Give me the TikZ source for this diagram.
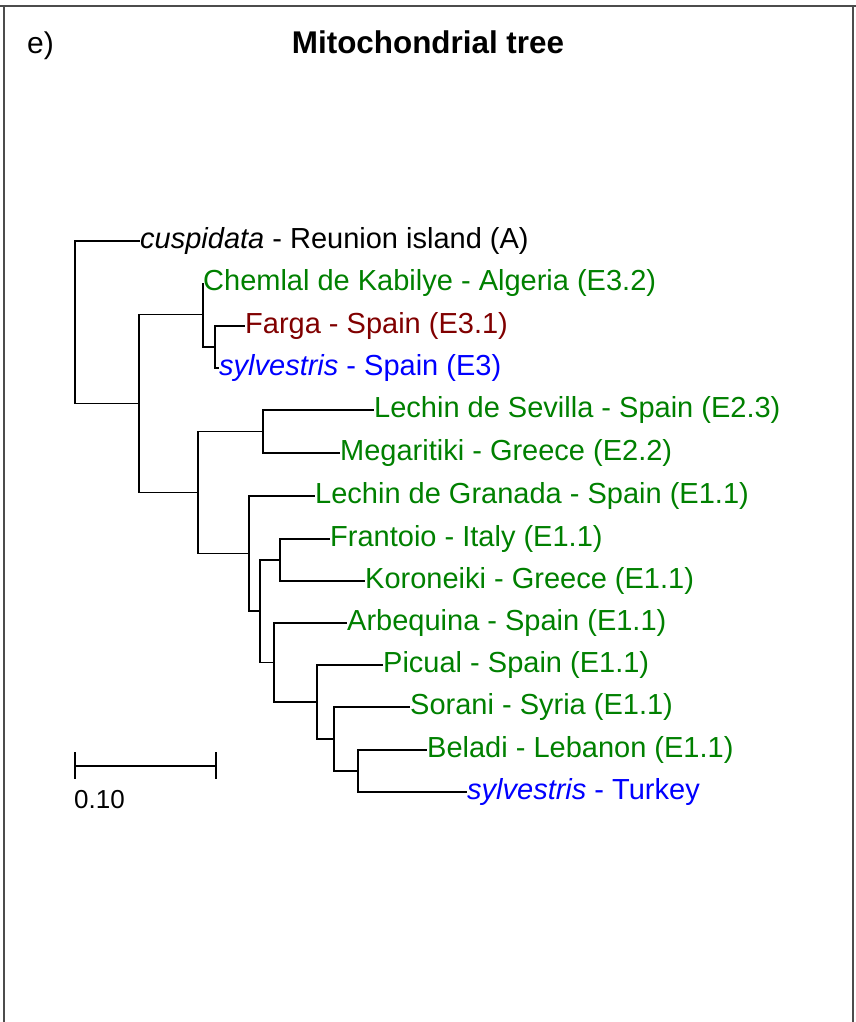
\documentclass[tikz,border=0pt]{standalone}
\usepackage{fontspec}
\setmainfont{Liberation Sans}
\definecolor{cultgreen}{RGB}{0,128,0}
\definecolor{wildblue}{RGB}{0,0,255}
\definecolor{fargared}{RGB}{128,0,0}
\tikzset{
    leaf/.style={anchor=west, inner sep=0pt, text height=14pt, text depth=0pt,
                 font=\fontsize{29}{34}\selectfont},
    branch/.style={line width=1.6pt},
}
\begin{document}
\begin{tikzpicture}[x=1pt,y=-1pt]
\useasboundingbox (0,0) rectangle (856,1022);
% Рамка
\draw[line width=1.5pt,black!70] (0,6) -- (856,6) (4,6) -- (4,1022) (853,6) -- (853,1022);
% Заголовок
\node[anchor=base west,inner sep=0pt,font=\fontsize{30}{36}\selectfont] (panel) at (27,54) {e)};
\node[anchor=base,inner sep=0pt,font=\bfseries\fontsize{31.4}{36}\selectfont] (title) at (428,54) {Mitochondrial tree};

% Внутренние узлы
\foreach \n/\x/\y in {root/75/322, n1/139/403.5, nA/203/314.5, nA2/215/347,
    nB/198/492.5, nB1/263/431.5, nB2/249/553.5, nC/260/611, nD/280/560,
    nE/274/662.5, nF/317/702, nG/334/739, nH/358/771}
    \coordinate (\n) at (\x,\y);

% Листья
\foreach \n/\x/\y/\col/\txt in {
    cusp/140/241/black/{\textit{cuspidata} - Reunion island (A)},
    chemlal/203/283/cultgreen/{Chemlal de Kabilye - Algeria (E3.2)},
    farga/245/326/fargared/{Farga - Spain (E3.1)},
    sylvS/219/368/wildblue/{\textit{sylvestris} - Spain (E3)},
    sevilla/374/410/cultgreen/{Lechin de Sevilla - Spain (E2.3)},
    megar/340/453/cultgreen/{Megaritiki - Greece (E2.2)},
    granada/315/496/cultgreen/{Lechin de Granada - Spain (E1.1)},
    frantoio/330/539/cultgreen/{Frantoio - Italy (E1.1)},
    koron/365/581/cultgreen/{Koroneiki - Greece (E1.1)},
    arbeq/347/623/cultgreen/{Arbequina - Spain (E1.1)},
    picual/383/665/cultgreen/{Picual - Spain (E1.1)},
    sorani/410/707/cultgreen/{Sorani - Syria (E1.1)},
    beladi/427/750/cultgreen/{Beladi - Lebanon (E1.1)},
    turkey/467/792/wildblue/{\textit{sylvestris} - Turkey}}
    \node[leaf,\col] (\n) at (\x,\y) {\txt};

% Ветви
\foreach \p/\c in {root/cusp, root/n1, n1/nA, n1/nB, nA/chemlal, nA/nA2,
    nA2/farga, nA2/sylvS, nB/nB1, nB/nB2, nB1/sevilla, nB1/megar,
    nB2/granada, nB2/nC, nC/nD, nC/nE, nD/frantoio, nD/koron,
    nE/arbeq, nE/nF, nF/picual, nF/nG, nG/sorani, nG/nH, nH/beladi, nH/turkey}
    \draw[branch] (\p) |- (\c);

% Масштаб
\coordinate (sb1) at (75,766);
\coordinate (sb2) at (216,766);
\draw[branch] (sb1) -- (sb2);
\draw[branch] (sb1) ++(0,-14) -- ++(0,27);
\draw[branch] (sb2) ++(0,-14) -- ++(0,27);
\node[anchor=base west,inner sep=0pt,font=\fontsize{26}{30}\selectfont] (sblabel) at (74,808) {0.10};
\end{tikzpicture}
\end{document}
